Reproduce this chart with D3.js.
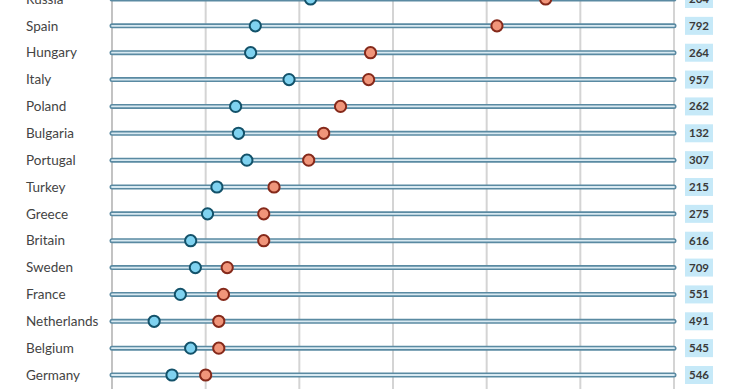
<!DOCTYPE html>
<html>
<head>
<meta charset="utf-8">
<script src="https://cdn.jsdelivr.net/npm/d3@7"></script>
<style>
  body { margin: 0; background: #fff; }
  svg { display: block; font-family: Lato, "Open Sans", sans-serif; }
</style>
</head>
<body>
<div id="chart"></div>
<script>
const countries = ["Russia", "Spain", "Hungary", "Italy", "Poland", "Bulgaria", "Portugal", "Turkey",
  "Greece", "Britain", "Sweden", "France", "Netherlands", "Belgium", "Germany"];
const lowValues = [21.2, 15.3, 14.8, 18.9, 13.2, 13.5, 14.4, 11.2, 10.2, 8.4, 8.9, 7.3, 4.5, 8.4, 6.4];
const highValues = [46.3, 41.1, 27.6, 27.4, 24.4, 22.6, 21.0, 17.3, 16.2, 16.2, 12.3, 11.9, 11.4, 11.4, 10.0];
const boxLabels = ["204", "792", "264", "957", "262", "132", "307", "215", "275", "616", "709", "551", "491", "545", "546"];
const gridTicks = [0, 10, 20, 30, 40, 50, 60];

const width = 740, height = 389;

const svg = d3.select("#chart").append("svg")
  .attr("width", width)
  .attr("height", height);

const x = d3.scaleLinear().domain([0, 60]).range([112, 674]);
const y = d3.scalePoint().domain(countries).range([-1, 375]);

// vertical gridlines
svg.selectAll(".grid")
  .data(gridTicks)
  .enter()
  .append("line")
  .attr("x1", d => x(d))
  .attr("x2", d => x(d))
  .attr("y1", 0)
  .attr("y2", height)
  .attr("stroke", d => d === 0 ? "#9a9a9a" : "#d4d4d4")
  .attr("stroke-width", d => d === 0 ? 1.2 : 2);

const rows = svg.selectAll(".row")
  .data(countries)
  .enter()
  .append("g")
  .attr("class", "row")
  .attr("transform", d => `translate(0,${y(d)})`);

// country names
rows.append("text")
  .attr("x", 26)
  .attr("y", 0)
  .attr("dy", "0.35em")
  .attr("font-size", 13.5)
  .attr("fill", "#444")
  .text(d => d);

// track: dark outline then light core
rows.append("line")
  .attr("x1", x(0))
  .attr("x2", x(60))
  .attr("stroke", "#5a8aa2")
  .attr("stroke-width", 5)
  .attr("stroke-linecap", "round");

rows.append("line")
  .attr("x1", x(0))
  .attr("x2", x(60))
  .attr("stroke", "#d9eaf2")
  .attr("stroke-width", 1.8)
  .attr("stroke-linecap", "round");

// high dots (red)
rows.append("circle")
  .attr("cx", (d, i) => x(highValues[i]))
  .attr("r", 5.6)
  .attr("fill", "#f0957a")
  .attr("stroke", "#85291a")
  .attr("stroke-width", 2);

// low dots (blue)
rows.append("circle")
  .attr("cx", (d, i) => x(lowValues[i]))
  .attr("r", 5.6)
  .attr("fill", "#7fd2f0")
  .attr("stroke", "#13526a")
  .attr("stroke-width", 2);

// value boxes
rows.append("rect")
  .attr("x", 685)
  .attr("y", -9)
  .attr("width", 28)
  .attr("height", 18)
  .attr("fill", "#c6e9f8");

rows.append("text")
  .attr("x", 699)
  .attr("y", 0)
  .attr("dy", "0.35em")
  .attr("text-anchor", "middle")
  .attr("font-size", 11.5)
  .attr("font-weight", "bold")
  .attr("fill", "#3a3a3a")
  .text((d, i) => boxLabels[i]);
</script>
</body>
</html>
